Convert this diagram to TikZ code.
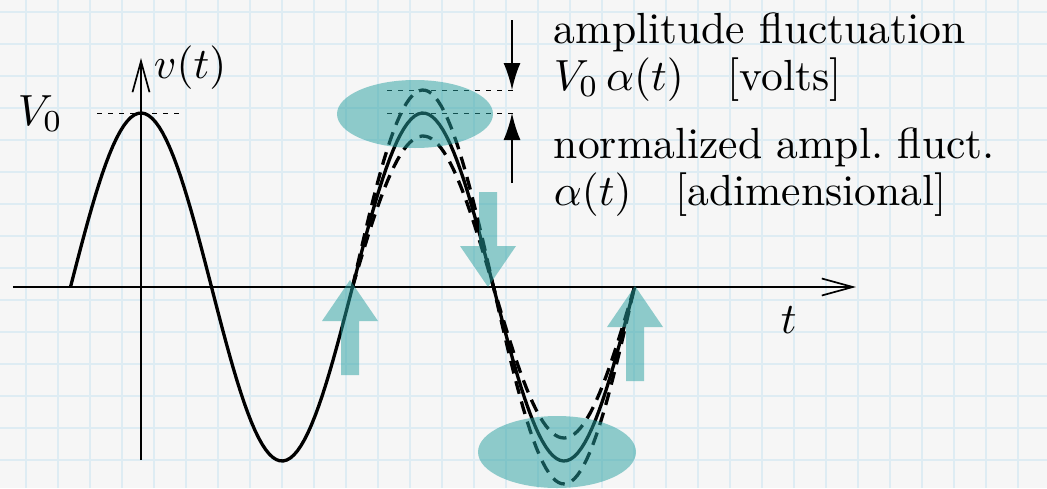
\documentclass[tikz,border=0pt]{standalone}
\usetikzlibrary{arrows.meta,positioning}
\definecolor{GridBlue}{RGB}{222,236,243}
\definecolor{PaperGray}{RGB}{246,246,246}
\definecolor{Teal}{RGB}{38,160,160}

\tikzset{
  wave/.style={line width=1.65pt},
  wavedash/.style={wave, dash pattern=on 6.5pt off 4pt},
  guide/.style={line width=0.5pt, dash pattern=on 2.5pt off 3pt},
  axis/.style={line width=0.85pt, -{Straight Barb[length=15.5pt,width=8.5pt]}},
  dim/.style={line width=0.9pt, -{Latex[length=13.5pt,width=8.5pt]}},
  blob/.style={fill=Teal, fill opacity=0.5},
  lbl/.style={scale=2.18, inner sep=0pt, anchor=base west},
  pics/bigarrow/.style={code={
    \fill[blob] (0,0) -- (28,-41) -- (9,-41) -- (9,-95) -- (-9,-95)
      -- (-9,-41) -- (-28,-41) -- cycle;}}
}

\begin{document}
\begin{tikzpicture}[x=0.5pt,y=0.5pt]
  % paper
  \fill[PaperGray] (-141,-201) rectangle (906,287);
  \useasboundingbox (-141,-201) rectangle (906,287);
  \foreach \gx in {0,...,31}
    \draw[GridBlue, line width=1.2pt] (-115+32*\gx,-201) -- (-115+32*\gx,287);
  \foreach \gy in {0,...,14}
    \draw[GridBlue, line width=1.2pt] (-141,275-32*\gy) -- (906,275-32*\gy);

  % axes
  \coordinate (xstart) at (-128,0);
  \coordinate (xend) at (715,0);
  \coordinate (ystart) at (0,-173);
  \coordinate (yend) at (0,229);
  \draw[axis] (xstart) -- (xend);
  \draw[axis] (ystart) -- (yend);

  % signal and fluctuating envelope
  \draw[wave] plot[domain=-70.5:493.5, samples=160] (\x, {174*cos(\x/282*360)});
  \draw[wavedash] plot[domain=211.5:493.5, samples=90] (\x, {197*cos(\x/282*360)});
  \draw[wavedash] plot[domain=211.5:493.5, samples=90] (\x, {151*cos(\x/282*360)});

  % reference levels
  \coordinate (pkL) at (-44,174);
  \coordinate (pkR) at (39,174);
  \coordinate (hiL) at (246,197);
  \coordinate (hiR) at (376,197);
  \coordinate (loL) at (246,174);
  \coordinate (loR) at (376,174);
  \draw[guide] (pkL) -- (pkR);
  \draw[guide] (hiL) -- (hiR);
  \draw[guide] (loL) -- (loR);

  % amplitude arrows
  \coordinate (dimtop) at (371,267);
  \coordinate (dimhi) at (371,197);
  \coordinate (dimbot) at (371,104);
  \coordinate (dimlo) at (371,174);
  \draw[dim] (dimtop) -- (dimhi);
  \draw[dim] (dimbot) -- (dimlo);

  % highlighted extrema
  \fill[blob] (274,173) ellipse [x radius=78, y radius=34];
  \fill[blob] (416,-165) ellipse [x radius=79, y radius=36];

  % zero crossings
  \pic at (209,7) {bigarrow};
  \pic[rotate=180] at (347,0) {bigarrow};
  \pic at (494,1) {bigarrow};

  % labels
  \node[lbl] (vzero) at (-124,162) {$V_0$};
  \node[lbl] (vt) at (12,209) {$v(t)$};
  \node[lbl] (tlbl) at (639,-46) {$t$};
  \node[lbl] (amp1) at (412,244) {amplitude fluctuation};
  \node[lbl] (amp2) at (412,197) {$V_0\,\alpha(t)$\quad[volts]};
  \node[lbl] (norm1) at (412,129) {normalized ampl.\ fluct.};
  \node[lbl] (norm2) at (412,82) {$\alpha(t)$\quad[adimensional]};
\end{tikzpicture}
\end{document}
